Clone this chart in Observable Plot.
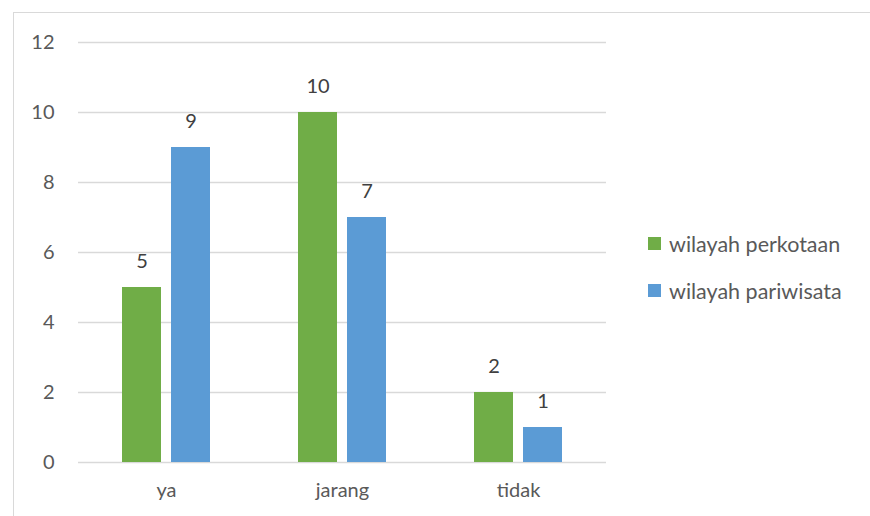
<!DOCTYPE html>
<html>
<head>
<meta charset="utf-8">
<script src="https://cdn.jsdelivr.net/npm/d3@7"></script>
<script src="https://cdn.jsdelivr.net/npm/@observablehq/plot@0.6"></script>
<style>
  html, body { margin: 0; padding: 0; background: #fff; overflow: hidden; }
  #wrap { position: relative; width: 870px; height: 516px; font-family: Lato, "Open Sans", sans-serif; }
  #frame { position: absolute; left: 13px; top: 12px; width: 900px; height: 600px; border: 1.5px solid #d9d9d9; box-sizing: border-box; }
  #chart { position: absolute; left: 0; top: 0; }
  #legend { position: absolute; left: 648px; top: 230px; font-size: 21.5px; color: #595959; }
  .item { display: flex; align-items: center; height: 27px; margin-bottom: 20px; }
  .sw { width: 13px; height: 13px; margin-right: 8px; }
</style>
</head>
<body>
<div id="wrap">
  <div id="frame"></div>
  <div id="chart"></div>
  <div id="legend"></div>
</div>
<script>
const categories = ["ya", "jarang", "tidak"];
const series = ["wilayah perkotaan", "wilayah pariwisata"];
const perkotaan = [5, 10, 2];
const pariwisata = [9, 7, 1];
const yTicks = [0, 2, 4, 6, 8, 10, 12];
const colors = ["#70ad47", "#5b9bd5"];

const data = [];
categories.forEach((c, i) => {
  data.push({cat: c, series: series[0], value: perkotaan[i]});
  data.push({cat: c, series: series[1], value: pariwisata[i]});
});

const chart = Plot.plot({
  width: 870,
  height: 516,
  marginLeft: 77,
  marginRight: 263,
  marginTop: 42,
  marginBottom: 54,
  style: {fontFamily: "Lato, 'Open Sans', sans-serif", fontSize: "20px", color: "#595959", background: "transparent"},
  fx: {domain: categories, padding: 0, label: null, tickSize: 0, tickPadding: 20, axis: "bottom"},
  x: {domain: series, paddingInner: 0.2, paddingOuter: 0.867, axis: null},
  y: {domain: [0, 12], ticks: yTicks, tickSize: 0, tickPadding: 24, label: null},
  color: {domain: series, range: colors},
  marks: [
    Plot.ruleY(yTicks, {stroke: "#d9d9d9", strokeWidth: 1.5}),
    Plot.barY(data, {fx: "cat", x: "series", y: "value", fill: "series"}),
    Plot.text(data, {fx: "cat", x: "series", y: "value", text: d => String(d.value), dy: -26, fill: "#404040", fontSize: 20})
  ]
});
document.getElementById("chart").appendChild(chart);

const legend = document.getElementById("legend");
series.forEach((s, i) => {
  const item = document.createElement("div");
  item.className = "item";
  const sw = document.createElement("div");
  sw.className = "sw";
  sw.style.background = colors[i];
  const t = document.createElement("span");
  t.textContent = s;
  item.appendChild(sw);
  item.appendChild(t);
  legend.appendChild(item);
});
</script>
</body>
</html>
